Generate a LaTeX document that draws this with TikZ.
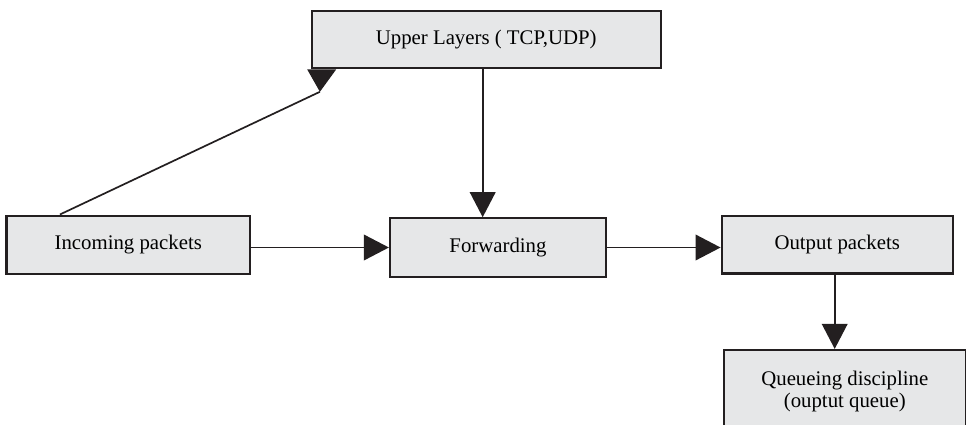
\documentclass[tikz,border=0pt]{standalone}
\usepackage{fontspec}
\setmainfont{Liberation Serif}
\usetikzlibrary{arrows.meta, positioning}
\definecolor{boxfill}{HTML}{E6E7E8}
\definecolor{ink}{HTML}{231F20}

\begin{document}
\begin{tikzpicture}[
  x=0.5pt, y=-0.5pt,
  font=\fontsize{10.4}{11}\selectfont,
  arrow/.style={draw=ink, line width=0.85pt, -{Triangle[length=12.5pt, width=12.8pt]}},
  line/.style={draw=ink, line width=0.85pt}
]
\tikzstyle{block}=[draw=ink,fill=boxfill,line width=1.1pt,inner sep=0pt,align=center]
\useasboundingbox (0,0) rectangle (966,424);

% Boxes
\node [block, minimum width=174.5pt, minimum height=28.8pt] (upper) at (486.2,39.5) {Upper Layers ( TCP,UDP)};
\node [block, minimum width=121.7pt, minimum height=29.2pt] (incoming) at (128.3,244.8) {Incoming packets};
\node [block, minimum width=108pt, minimum height=29.2pt] (forwarding) at (498,247.5) {Forwarding};
\node [block, minimum width=115.5pt, minimum height=28.8pt] (output) at (837.2,244.6) {Output packets};
\node [block, minimum width=120.8pt, minimum height=41pt] (queue) at (844.8,391) {Queueing discipline\\(ouptut queue)};

% Arrows
\draw [arrow] (incoming.east |- forwarding) -- (forwarding.west);
\draw [arrow] (forwarding.east) -- (forwarding.east -| output.west);
\draw [arrow] ([xshift=-1.75pt]upper.south) -- ([xshift=-1.75pt]upper.south |- forwarding.north);
\draw [arrow] ([xshift=-1.25pt]output.south) -- ([xshift=-1.25pt]output.south |- queue.north);

% Link up to upper layers
\coordinate (tip) at ([shift={(4.65pt,-11.2pt)}]upper.south west);
\draw [line] ([xshift=27.2pt]incoming.north west) -- (tip);
\fill [ink] ([xshift=-1.7pt]upper.south west) -- ([xshift=12.8pt]upper.south west) -- (tip) -- cycle;

\end{tikzpicture}
\end{document}
